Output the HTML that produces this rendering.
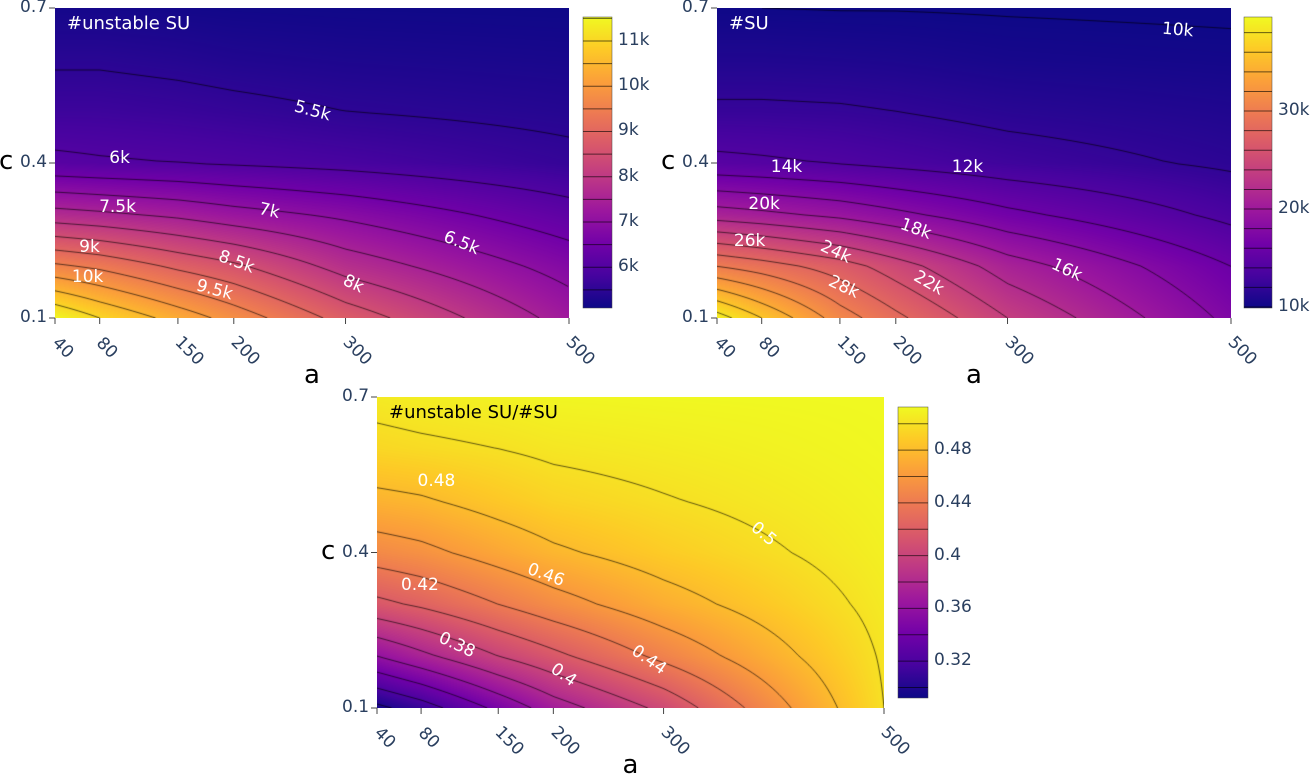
<!DOCTYPE html>
<html><head><meta charset="utf-8"><style>
html,body{margin:0;padding:0;background:#fff}
#root{position:relative;width:1312px;height:775px;overflow:hidden;font-family:"DejaVu Sans","Liberation Sans",sans-serif}
canvas{position:absolute}
.t{position:absolute;color:#2a3f5f;font-size:17px;white-space:nowrap}
.lab{position:absolute;color:#fff;font-size:17px;white-space:nowrap;transform-origin:center}
.ttl{position:absolute;font-size:26px;color:#000}
</style></head><body>
<div id="root"></div>
<script>
// ---- data ----
const aVals=[40,80,150,200,300,500];
const cVals=[0.1,0.2,0.3,0.4,0.5,0.6,0.7];
// rows: c=0.1..0.7, cols: a
const unstable=[[11.5,11.0,10.3,9.8,8.8,7.3],[9.6,9.4,8.9,8.6,7.8,6.8],[7.7,7.6,7.4,7.2,6.9,6.2],[6.1,6.05,6.0,5.95,5.85,5.6],[5.7,5.7,5.65,5.6,5.5,5.4],[5.45,5.45,5.4,5.35,5.3,5.25],[5.2,5.2,5.18,5.16,5.14,5.12]];
const total=[[39,36,31,28.5,24,17.5],[30,29,27,25,21,16],[21,20.5,19.5,18.5,16.5,13.5],[14.5,14.3,13.9,13.5,12.8,11.7],[12.3,12.3,12.2,12.0,11.5,11.0],[11.0,11.0,10.9,10.8,10.5,10.3],[10.0,10.0,9.95,9.95,9.9,9.8]];
const ratio=[[0.295,0.31,0.345,0.37,0.405,0.500],[0.36,0.375,0.4,0.415,0.445,0.502],[0.415,0.423,0.44,0.452,0.472,0.505],[0.45,0.455,0.468,0.477,0.489,0.508],[0.475,0.478,0.487,0.493,0.499,0.510],[0.495,0.497,0.5,0.503,0.506,0.512],[0.505,0.507,0.509,0.511,0.512,0.513]];
const xTicks=[40,80,150,200,300,500];
const yTicks=[0.1,0.4,0.7];
const cb1Ticks=[6,7,8,9,10,11];
const cb2Ticks=[10,20,30];
const cb3Ticks=[0.32,0.36,0.4,0.44,0.48];
const labels1=[["5.5k",270,0.50,15],["6k",98,0.41,0],["7.5k",96,0.315,0],["7k",232,0.307,12],["6.5k",404,0.246,22],["9k",71,0.237,0],["8.5k",202,0.208,20],["10k",69,0.18,0],["9.5k",183,0.155,15],["8k",307,0.166,25]];
const labels2=[["10k",452,0.657,5],["12k",264,0.392,0],["14k",102,0.392,0],["20k",82,0.32,0],["18k",218,0.272,20],["26k",69,0.25,0],["24k",146,0.228,25],["16k",353,0.193,25],["22k",229,0.168,30],["28k",153,0.16,25]];
const labels3=[["0.48",94,0.538,0],["0.5",391,0.436,40],["0.46",193,0.357,20],["0.42",79,0.337,0],["0.38",113,0.222,25],["0.4",209,0.164,35],["0.44",287,0.193,35]];

const plasma=["#0d0887","#46039f","#7201a8","#9c179e","#bd3786","#d8576b","#ed7953","#fb9f3a","#fdca26","#f0f921"].map(h=>[parseInt(h.slice(1,3),16),parseInt(h.slice(3,5),16),parseInt(h.slice(5,7),16)]);
function col(t){t=Math.max(0,Math.min(1,t));const s=t*9,i=Math.min(8,Math.floor(s)),f=s-i,a=plasma[i],b=plasma[i+1];return [a[0]+(b[0]-a[0])*f,a[1]+(b[1]-a[1])*f,a[2]+(b[2]-a[2])*f];}
function interp(g,a,c){
  let i=0;while(i<aVals.length-2&&a>aVals[i+1])i++;
  let j=0;while(j<cVals.length-2&&c>cVals[j+1])j++;
  const fx=(a-aVals[i])/(aVals[i+1]-aVals[i]),fy=(c-cVals[j])/(cVals[j+1]-cVals[j]);
  const v00=g[j][i],v10=g[j][i+1],v01=g[j+1][i],v11=g[j+1][i+1];
  return (v00*(1-fx)+v10*fx)*(1-fy)+(v01*(1-fx)+v11*fx)*fy;
}
const root=document.getElementById('root');
function div(cls,txt,x,y,extra){const d=document.createElement('div');d.className=cls;d.textContent=txt;d.style.left=x+'px';d.style.top=y+'px';if(extra)Object.assign(d.style,extra);root.appendChild(d);return d;}

function plot(P){
  const W=P.x1-P.x0,H=P.y1-P.y0;
  const xs=a=>P.x0+(a-40)/460*W, ys=c=>P.y1-(c-0.1)/0.6*H;
  const cv=document.createElement('canvas');cv.width=W;cv.height=H;cv.style.left=P.x0+'px';cv.style.top=P.y0+'px';
  
  
  root.appendChild(cv);
  const ctx=cv.getContext('2d');const img=ctx.createImageData(W,H);
  for(let y=0;y<H;y++)for(let x=0;x<W;x++){const a=40+(x+0.5)/W*460,c=0.1+(H-y-0.5)/H*0.6;const v=interp(P.g,a,c);const k=col((v-P.vmin)/(P.vmax-P.vmin));const o=(y*W+x)*4;img.data[o]=k[0];img.data[o+1]=k[1];img.data[o+2]=k[2];img.data[o+3]=255;}
  ctx.putImageData(img,0,0);
  const st=3,nx=Math.ceil(W/st)+1,ny=Math.ceil(H/st)+1,F=[];
  for(let j=0;j<ny;j++){F[j]=[];for(let i=0;i<nx;i++){const px=Math.min(W,i*st),py=Math.min(H,j*st);F[j][i]=interp(P.g,40+px/W*460,0.1+(H-py)/H*0.6);}}
  ctx.strokeStyle='rgba(0,0,0,0.9)';ctx.lineWidth=0.7;ctx.beginPath();
  for(let L=P.lmin;L<=P.vmax+1e-9;L+=P.lstep){
    for(let j=0;j<ny-1;j++)for(let i=0;i<nx-1;i++){
      const x0=Math.min(W,i*st),x1=Math.min(W,(i+1)*st),y0=Math.min(H,j*st),y1=Math.min(H,(j+1)*st);
      const v=[F[j][i],F[j][i+1],F[j+1][i+1],F[j+1][i]];
      const pts=[];
      const e=[[0,1,x0,y0,x1,y0],[1,2,x1,y0,x1,y1],[2,3,x1,y1,x0,y1],[3,0,x0,y1,x0,y0]];
      for(const [p,q,ax,ay,bx,by] of e){const va=v[p],vb=v[q];if((va-L)*(vb-L)<0){const t=(L-va)/(vb-va);pts.push([ax+(bx-ax)*t,ay+(by-ay)*t]);}}
      for(let k=0;k+1<pts.length;k+=2){ctx.moveTo(pts[k][0],pts[k][1]);ctx.lineTo(pts[k+1][0],pts[k+1][1]);}
    }
  }
  ctx.stroke();
  P.labels.forEach(l=>{const d=div('lab',l[0],0,0);const w=d.offsetWidth,h=d.offsetHeight;d.style.left=(xs(l[1])-w/2)+'px';d.style.top=(ys(l[2])-h/2)+'px';d.style.transform='rotate('+l[3]+'deg)';});
  const t=div('t',P.title,P.x0+12,P.y0+5,{color:P.tcol,fontSize:'18px'});
  const sv=document.createElementNS('http://www.w3.org/2000/svg','svg');sv.setAttribute('width',1312);sv.setAttribute('height',775);sv.style.position='absolute';sv.style.left='0';sv.style.top='0';
  
  let s='';
  xTicks.forEach(a=>{s+=`<line x1="${xs(a)}" x2="${xs(a)}" y1="${P.y1}" y2="${P.y1+6}" stroke="#444" stroke-width="1"/>`;});
  yTicks.forEach(c=>{s+=`<line x1="${P.x0-6}" x2="${P.x0}" y1="${ys(c)}" y2="${ys(c)}" stroke="#444" stroke-width="1"/>`;});
  const cH=P.cy1-P.cy0;const cys=v=>P.cy1-(v-P.vmin)/(P.vmax-P.vmin)*cH;
  s+=`<defs><linearGradient id="g${P.name}" x1="0" y1="1" x2="0" y2="0">`;for(let k=0;k<=9;k++){const c=plasma[k];s+=`<stop offset="${k/9}" stop-color="rgb(${c})"/>`;}s+='</linearGradient></defs>';
  s+=`<rect x="${P.cx}" y="${P.cy0}" width="${P.cw}" height="${cH}" fill="url(#g${P.name})" stroke="#444" stroke-width="0.5"/>`;
  for(let L=P.lmin;L<=P.vmax+1e-9;L+=P.lstep){s+=`<line x1="${P.cx}" x2="${P.cx+P.cw}" y1="${cys(L)}" y2="${cys(L)}" stroke="rgba(0,0,0,0.6)" stroke-width="1"/>`;}
  sv.innerHTML=s;root.appendChild(sv);
  xTicks.forEach(a=>{const d=div('t',String(a),0,0);const w=d.offsetWidth;d.style.left=(xs(a)-w/2+w*0.35)+'px';d.style.top=(P.y1+12+w*0.35)+'px';d.style.transform='rotate(45deg)';});
  yTicks.forEach(c=>{const d=div('t',String(c),0,0);d.style.left=(P.x0-8-d.offsetWidth)+'px';d.style.top=(ys(c)-11)+'px';});
  P.cbTicks.forEach(v=>{const d=div('t',P.fmt(v),P.cx+P.cw+6,cys(v)-11);});
  const ax=div('ttl','a',P.x0+W/2-8,P.y1+42);
  const ay=div('ttl','c',P.x0-56,ys(0.4)-17);
}
plot({name:'unstable-su',g:unstable,x0:55,x1:569,y0:8,y1:318,vmin:5.1,vmax:11.53,lmin:5.5,lstep:0.5,cx:583,cw:29,cy0:17,cy1:308,cbTicks:cb1Ticks,fmt:v=>v+'k',labels:labels1,title:'#unstable SU',tcol:'#fff'});
plot({name:'su',g:total,x0:717,x1:1231,y0:8,y1:318,vmin:9.9,vmax:39.6,lmin:10,lstep:2,cx:1244,cw:28,cy0:17,cy1:308,cbTicks:cb2Ticks,fmt:v=>v+'k',labels:labels2,title:'#SU',tcol:'#fff'});
plot({name:'ratio',g:ratio,x0:377,x1:884,y0:397,y1:708,vmin:0.292,vmax:0.5127,lmin:0.30,lstep:0.02,cx:898,cw:30,cy0:407,cy1:698,cbTicks:cb3Ticks,fmt:v=>String(v),labels:labels3,title:'#unstable SU/#SU',tcol:'#000'});
</script>
</body></html>
